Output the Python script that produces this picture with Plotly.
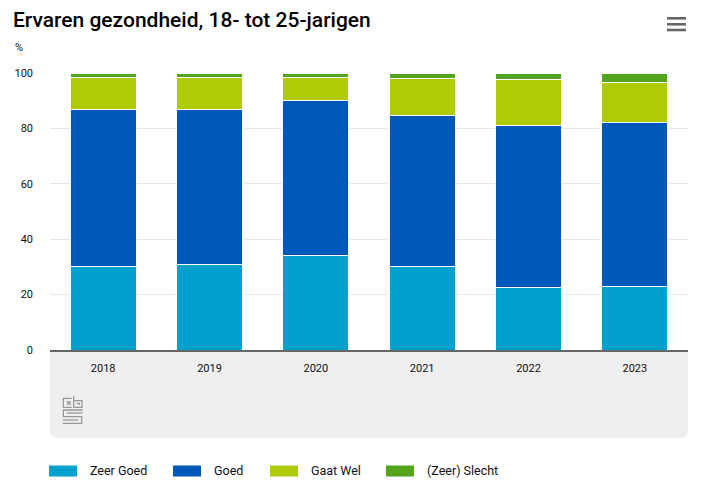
import plotly.graph_objects as go

years = ["2018", "2019", "2020", "2021", "2022", "2023"]
zeer_goed = [30.3, 31.0, 34.2, 30.2, 22.6, 23.1]
goed = [56.5, 55.8, 55.9, 54.3, 58.3, 59.2]
gaat_wel = [11.4, 11.6, 8.3, 13.4, 16.7, 14.4]
slecht = [1.8, 1.6, 1.6, 2.1, 2.4, 3.3]

series_names = ["Zeer Goed", "Goed", "Gaat Wel", "(Zeer) Slecht"]
series_values = [zeer_goed, goed, gaat_wel, slecht]
colors = ["#00a1cd", "#0058b8", "#afcb05", "#53a31d"]

W, H = 710, 498
L, R, T, B = 50, 22, 73, 148
PW, PH = W - L - R, H - T - B

def px(x):
    return (x - L) / PW

def py(y):
    return (H - B - y) / PH

FONT = "Roboto"

fig = go.Figure()
for name, vals, col in zip(series_names, series_values, colors):
    fig.add_trace(go.Bar(
        x=years, y=vals, name=name,
        marker=dict(color=col, line=dict(color="white", width=1)),
        showlegend=False,
    ))

shapes = []
# grey band under the x axis with rounded bottom corners
x0, x1 = px(50), px(688)
y0, y1 = py(438), py(351)
rx, ry = 8 / PW, 8 / PH
band = (f"M {x0},{y1} L {x1},{y1} L {x1},{y0 + ry} Q {x1},{y0} {x1 - rx},{y0} "
        f"L {x0 + rx},{y0} Q {x0},{y0} {x0},{y0 + ry} Z")
shapes.append(dict(type="path", path=band, xref="paper", yref="paper",
                   fillcolor="#efefef", line=dict(width=0), layer="below"))

# cbs logo (approximate)
def lz(zx, zy):
    return px(40 + zx / 3), py(380 + zy / 3)

logo_paths = [
    [(95, 55), (70, 55), (70, 82), (95, 82)],
    [(101, 48), (101, 82), (126, 82), (126, 62), (101, 62)],
    [(128, 90), (70, 90), (70, 110), (125, 110), (125, 130), (68, 130)],
    [(80, 66), (90, 66), (90, 72), (80, 72)],
    [(110, 70), (118, 70), (118, 75)],
    [(80, 99), (128, 99)],
    [(68, 120), (114, 120)],
]
for pts in logo_paths:
    coords = [lz(a, b) for a, b in pts]
    p = "M " + " L ".join(f"{a},{b}" for a, b in coords)
    shapes.append(dict(type="path", path=p, xref="paper", yref="paper",
                       line=dict(color="#9a9a9a", width=1.3)))

# hamburger menu icon
for yy in [18.3, 24.3, 30.0]:
    shapes.append(dict(type="line", xref="paper", yref="paper",
                       x0=px(667), x1=px(686), y0=py(yy), y1=py(yy),
                       line=dict(color="#666666", width=2.6)))

# custom legend
legend_swatch_x = [49, 173, 270, 386]
annotations = []
for name, col, sx in zip(series_names, colors, legend_swatch_x):
    shapes.append(dict(type="rect", xref="paper", yref="paper",
                       x0=px(sx), x1=px(sx + 28), y0=py(476.5), y1=py(465.5),
                       fillcolor=col, line=dict(width=0)))
    annotations.append(dict(text=name, xref="paper", yref="paper",
                            x=px(sx + 39), y=py(470.5), xanchor="left", yanchor="middle",
                            showarrow=False, font=dict(family=FONT, size=12.5, color="#111111")))

annotations.append(dict(text="%", xref="paper", yref="paper", x=px(13), y=py(47),
                        xanchor="left", yanchor="middle", showarrow=False,
                        font=dict(family=FONT, size=11, color="#111111")))

fig.update_layout(
    width=W, height=H,
    margin=dict(l=L, r=R, t=T, b=B, autoexpand=False),
    paper_bgcolor="white", plot_bgcolor="white",
    barmode="stack", bargap=0.38,
    title=dict(text="Ervaren gezondheid, 18- tot 25-jarigen", x=13 / W, xanchor="left",
               y=1 - 20 / H, yanchor="middle",
               font=dict(family=FONT, size=21, color="#000000", weight=500)),
    font=dict(family=FONT, size=11, color="#111111"),
    shapes=shapes, annotations=annotations,
    xaxis=dict(showgrid=False, showline=True, linecolor="#666666", linewidth=2,
               ticks="", tickfont=dict(family=FONT, size=11, color="#111111"),
               ticklabelstandoff=7, fixedrange=True),
    yaxis=dict(range=[0, 100], dtick=20, showgrid=True, gridcolor="#e6e6e6", gridwidth=1,
               zeroline=False, ticks="", tickfont=dict(family=FONT, size=11, color="#111111"),
               ticklabelstandoff=16, fixedrange=True),
)

fig.write_html("out.html", post_script="document.body.style.margin='0';",
               config={"displayModeBar": False})
